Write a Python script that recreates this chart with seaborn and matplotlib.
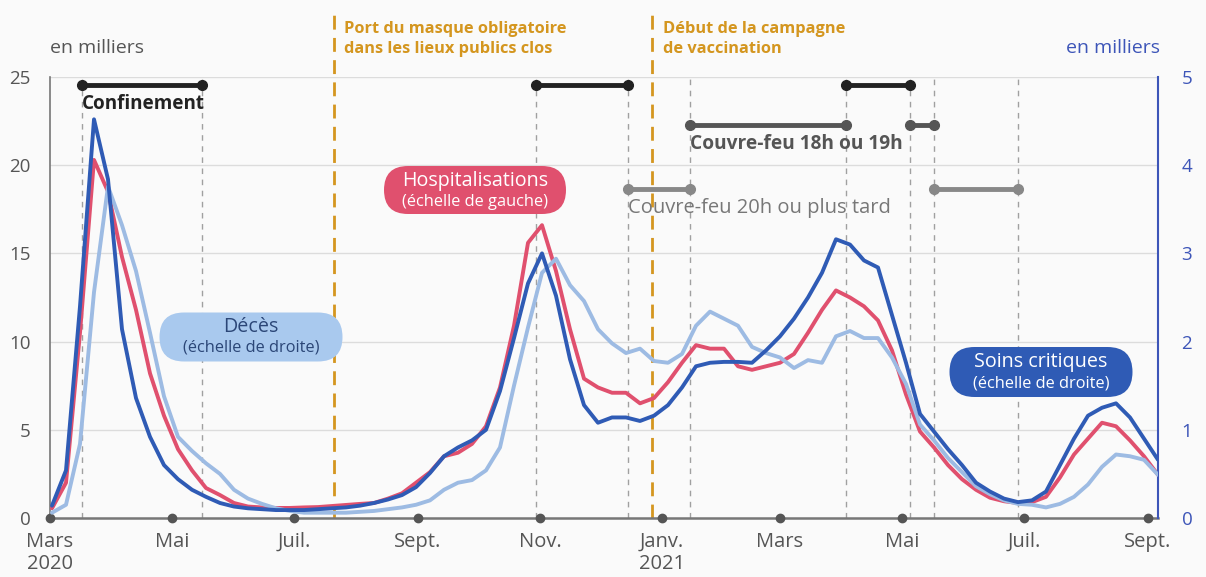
import pandas as pd
import matplotlib
matplotlib.use("Agg")
import matplotlib.pyplot as plt
import seaborn as sns
from matplotlib.patches import FancyBboxPatch

# Données hebdomadaires (en milliers)
hospit = [0.55, 2.0, 10.5, 20.3, 18.5, 14.8, 11.8, 8.2, 5.8, 3.9,
          2.7, 1.7, 1.3, 0.85, 0.65, 0.6, 0.57, 0.57, 0.6, 0.62,
          0.68, 0.74, 0.8, 0.85, 1.1, 1.4, 2.0, 2.6, 3.5, 3.7,
          4.2, 5.2, 7.4, 10.9, 15.6, 16.6, 14.0, 10.7, 7.9, 7.4,
          7.1, 7.1, 6.5, 6.8, 7.7, 8.8, 9.8, 9.6, 9.6, 8.6,
          8.4, 8.6, 8.8, 9.3, 10.5, 11.8, 12.9, 12.5, 12.0, 11.2,
          9.5, 7.0, 4.9, 4.0, 3.0, 2.2, 1.6, 1.15, 0.95, 0.85,
          0.9, 1.2, 2.3, 3.6, 4.5, 5.4, 5.2, 4.4, 3.5, 2.45]
soins = [0.14, 0.54, 2.40, 4.52, 3.84, 2.14, 1.36, 0.92, 0.60, 0.44,
         0.32, 0.24, 0.17, 0.13, 0.11, 0.10, 0.09, 0.09, 0.09, 0.10,
         0.11, 0.12, 0.14, 0.17, 0.21, 0.26, 0.35, 0.51, 0.70, 0.80,
         0.88, 1.00, 1.44, 2.04, 2.66, 3.00, 2.52, 1.80, 1.28, 1.08,
         1.14, 1.14, 1.10, 1.16, 1.28, 1.48, 1.72, 1.76, 1.77, 1.77,
         1.76, 1.90, 2.06, 2.26, 2.50, 2.78, 3.16, 3.10, 2.92, 2.84,
         2.30, 1.76, 1.18, 0.98, 0.78, 0.60, 0.40, 0.30, 0.22, 0.18,
         0.20, 0.30, 0.60, 0.90, 1.16, 1.25, 1.30, 1.14, 0.90, 0.66]
deces = [0.06, 0.15, 0.84, 2.56, 3.76, 3.32, 2.80, 2.10, 1.38, 0.92,
         0.76, 0.62, 0.50, 0.32, 0.22, 0.16, 0.11, 0.08, 0.06, 0.06,
         0.06, 0.06, 0.07, 0.08, 0.10, 0.12, 0.15, 0.20, 0.32, 0.40,
         0.43, 0.54, 0.80, 1.50, 2.16, 2.78, 2.94, 2.64, 2.46, 2.14,
         1.98, 1.87, 1.92, 1.78, 1.76, 1.86, 2.18, 2.34, 2.26, 2.18,
         1.94, 1.87, 1.82, 1.70, 1.79, 1.76, 2.06, 2.12, 2.04, 2.04,
         1.82, 1.52, 1.06, 0.88, 0.68, 0.52, 0.36, 0.27, 0.20, 0.16,
         0.15, 0.12, 0.16, 0.24, 0.38, 0.58, 0.72, 0.70, 0.66, 0.49]
semaines = pd.date_range("2020-03-02", periods=len(hospit), freq="7D")

mois = pd.to_datetime(["2020-03-01", "2020-05-01", "2020-07-01", "2020-09-01",
                       "2020-11-01", "2021-01-01", "2021-03-01", "2021-05-01",
                       "2021-07-01", "2021-09-01"])
mois_labels = ["Mars\n2020", "Mai", "Juil.", "Sept.", "Nov.", "Janv.\n2021",
               "Mars", "Mai", "Juil.", "Sept."]

# Mesures
confinement = [("2020-03-17", "2020-05-16"), ("2020-10-30", "2020-12-15"),
               ("2021-04-03", "2021-05-05")]
cf_18h = [("2021-01-15", "2021-04-03"), ("2021-05-05", "2021-05-17")]
cf_20h = [("2020-12-15", "2021-01-15"), ("2021-05-17", "2021-06-28")]
dates_mesures = ["2020-03-17", "2020-05-16", "2020-10-30", "2020-12-15",
                 "2021-01-15", "2021-04-03", "2021-05-05", "2021-05-17",
                 "2021-06-28"]
dates_orange = ["2020-07-21", "2020-12-27"]

W, H = 1206, 577
ROUGE = "#e0506e"
BLEU = "#2f5bb5"
BLEU_CLAIR = "#9dbbe3"
ORANGE = "#d4961f"
GRIS = "#555555"

sns.set_theme(style="white")
plt.rcParams["font.family"] = ["Open Sans", "DejaVu Sans"]

fig = plt.figure(figsize=(W / 100, H / 100), dpi=100)
fig.patch.set_facecolor("#fafafa")
ax = fig.add_axes([50 / W, 59 / H, 1108 / W, 441 / H])
ax.set_facecolor("none")
ax2 = ax.twinx()

x0, x1 = pd.Timestamp("2020-03-01"), pd.Timestamp("2021-09-06")
ax.set_xlim(x0, x1)
ax.set_ylim(0, 25)
ax2.set_ylim(0, 5)

ax.set_yticks([0, 5, 10, 15, 20, 25])
ax2.set_yticks([0, 1, 2, 3, 4, 5])
ax.grid(axis="y", color="#dcdcdc", linewidth=1)
ax.grid(axis="x", visible=False)
ax2.grid(False)

# lignes verticales pointillées
for d in dates_mesures:
    ax.axvline(pd.Timestamp(d), ymin=0, ymax=1, color="#a0a0a0", lw=1,
               dashes=(4, 4), zorder=1)
for d in dates_orange:
    ax.axvline(pd.Timestamp(d), ymin=0, ymax=1.147, color=ORANGE, lw=2,
               dashes=(5, 3), zorder=2, clip_on=False)

# barres des mesures
def barres(periodes, y, couleur):
    for a, b in periodes:
        ax.plot([pd.Timestamp(a), pd.Timestamp(b)], [y, y], color=couleur,
                lw=3.5, marker="o", ms=7, solid_capstyle="round", zorder=3)

barres(confinement, 24.55, "#222222")
barres(cf_18h, 22.3, "#555555")
barres(cf_20h, 18.65, "#888888")

ax.text(pd.Timestamp("2020-03-17"), 23.45, "Confinement", fontsize=13.6,
        fontweight="bold", color="#222222", va="center", ha="left", zorder=4)
ax.text(pd.Timestamp("2021-01-15"), 21.2, "Couvre-feu 18h ou 19h", fontsize=13.8,
        fontweight="bold", color="#555555", va="center", ha="left", zorder=4)
ax.text(pd.Timestamp("2020-12-15"), 17.55, "Couvre-feu 20h ou plus tard",
        fontsize=14.5, color="#777777", va="center", ha="left", zorder=4)

# courbes
sns.lineplot(x=semaines, y=hospit, ax=ax, color=ROUGE, linewidth=2.8, zorder=5)
sns.lineplot(x=semaines, y=deces, ax=ax2, color=BLEU_CLAIR, linewidth=2.8, zorder=5)
sns.lineplot(x=semaines, y=soins, ax=ax2, color=BLEU, linewidth=2.8, zorder=6)

# axes
for a in (ax, ax2):
    for s in a.spines.values():
        s.set_visible(False)
ax.spines["left"].set_visible(True)
ax.spines["left"].set_color("#777777")
ax.spines["left"].set_linewidth(1.2)
ax.spines["bottom"].set_visible(True)
ax.spines["bottom"].set_color("#777777")
ax.spines["bottom"].set_linewidth(1.8)
ax2.spines["right"].set_visible(True)
ax2.spines["right"].set_color("#3d55b8")
ax2.spines["right"].set_linewidth(1.5)

ax.set_xticks(mois)
ax.set_xticklabels(mois_labels)
ax.tick_params(axis="x", length=0, pad=10, labelsize=14.5, colors=GRIS)
ax.tick_params(axis="y", length=0, pad=14, labelsize=13.5, colors=GRIS)
ax2.tick_params(axis="y", length=0, pad=17, labelsize=13.5, colors="#3d55b8")
for lab in ax.get_xticklabels():
    lab.set_linespacing(1.12)
    lab.set_verticalalignment("top")
ax.set_xlabel("")
ax.set_ylabel("")
ax2.set_ylabel("")

ax.plot(mois, [0] * len(mois), "o", color="#555555", ms=6, clip_on=False,
        zorder=7)

fig.text(50 / W, 1 - 48 / H, "en milliers", fontsize=14, color=GRIS,
         ha="left", va="center")
fig.text(1160 / W, 1 - 48 / H, "en milliers", fontsize=14, color="#3d55b8",
         ha="right", va="center")

fig.text(344 / W, 1 - 21 / H, "Port du masque obligatoire\ndans les lieux publics clos",
         fontsize=11.8, fontweight="bold", color=ORANGE, ha="left", va="top",
         linespacing=1.32)
fig.text(663 / W, 1 - 21 / H, "Début de la campagne\nde vaccination",
         fontsize=11.8, fontweight="bold", color=ORANGE, ha="left", va="top",
         linespacing=1.32)

# étiquettes arrondies
def pastille(cx, cy, w, h, fond, titre, sous_titre, couleur_texte, dy1, dy2):
    r = h / 2
    box = FancyBboxPatch(((cx - w / 2 + r) / W, 1 - (cy + h / 2 - r) / H),
                         (w - 2 * r) / W, (h - 2 * r) / H,
                         boxstyle=f"round,pad={r / W},rounding_size={r / W}",
                         mutation_aspect=W / H, transform=fig.transFigure,
                         facecolor=fond, edgecolor="none", zorder=10)
    fig.add_artist(box)
    fig.text(cx / W, 1 - (cy + dy1) / H, titre, fontsize=14.2,
             color=couleur_texte, ha="center", va="center", zorder=11)
    fig.text(cx / W, 1 - (cy + dy2) / H, sous_titre, fontsize=11.8,
             color=couleur_texte, ha="center", va="center", zorder=11)

pastille(475, 190, 182, 48, ROUGE, "Hospitalisations", "(échelle de gauche)",
         "white", -9, 12)
pastille(251, 337, 183, 49, "#a9c9ee", "Décès", "(échelle de droite)",
         "#2b4677", -10, 11)
pastille(1041, 372, 183, 50, BLEU, "Soins critiques", "(échelle de droite)",
         "white", -10, 11)

fig.savefig("out.png", dpi=100, facecolor=fig.get_facecolor())
